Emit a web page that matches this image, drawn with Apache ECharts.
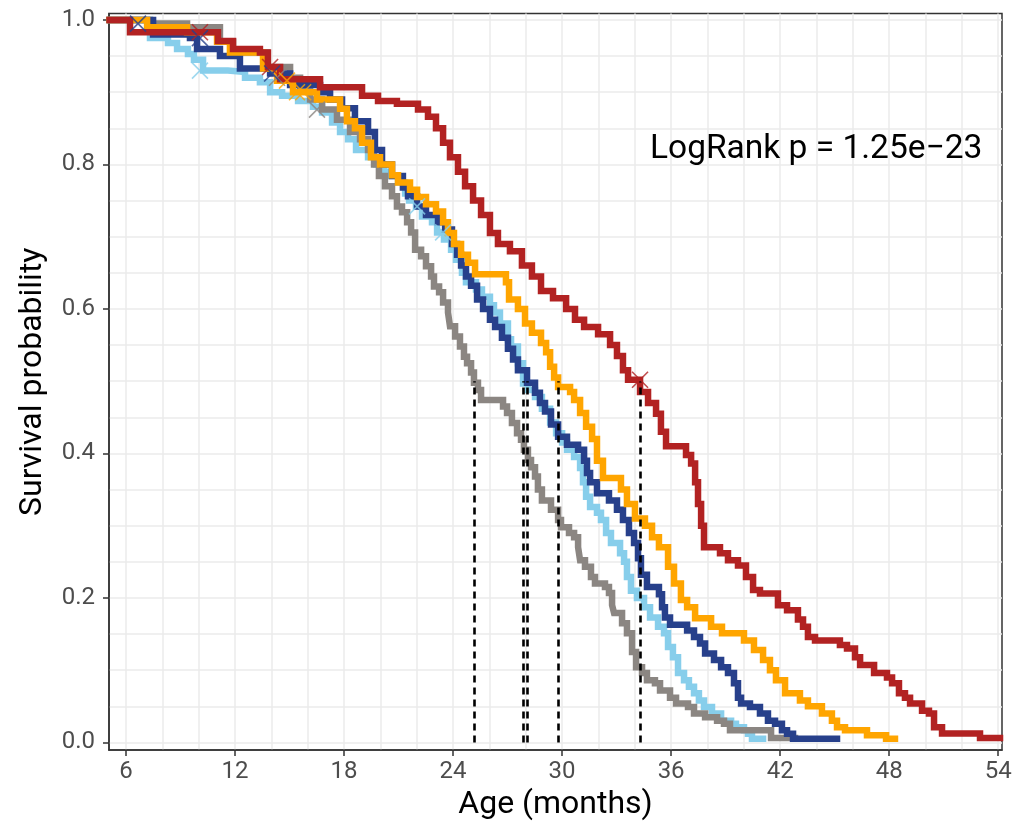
<!DOCTYPE html>
<html>
<head>
<meta charset="utf-8">
<script src="https://cdn.jsdelivr.net/npm/echarts@6/dist/echarts.min.js"></script>
<style>
  html, body { margin: 0; padding: 0; background: #fff; }
  #chart { width: 1024px; height: 828px; }
</style>
</head>
<body>
<div id="chart"></div>
<script>
// ---- Axis ticks / gridlines ----
const xTickValues = [6, 12, 18, 24, 30, 36, 42, 48, 54];
const xGridValues = [6, 8, 10, 12, 14, 16, 18, 20, 22, 24, 26, 28, 30, 32, 34, 36, 38, 40, 42, 44, 46, 48, 50, 52, 54];
const yTickValues = [0, 0.2, 0.4, 0.6, 0.8, 1.0];
const yGridValues = [0, 0.05, 0.1, 0.15, 0.2, 0.25, 0.3, 0.35, 0.4, 0.45, 0.5, 0.55, 0.6, 0.65, 0.7, 0.75, 0.8, 0.85, 0.9, 0.95, 1.0];

// ---- Kaplan-Meier curves (time in months, survival probability) ----
const lightblueTime = [5.1, 7.32, 8.31, 8.81, 9.41, 9.74, 10.24, 11.61, 12.55, 13.37, 13.93, 14.59, 15.47, 16.29, 16.79, 17.34, 17.78, 18.22, 18.66, 19.32, 19.76, 20.20, 20.47, 20.97, 21.36, 21.58, 21.96, 22.29, 22.84, 23.12, 23.50, 23.89, 24.16, 24.49, 24.71, 25.26, 25.59, 26.03, 26.25, 26.58, 27.02, 27.19, 27.57, 27.85, 28.12, 28.51, 28.89, 29.34, 29.67, 30.00, 30.27, 30.66, 30.99, 31.15, 31.32, 31.54, 31.92, 32.14, 32.42, 32.69, 33.19, 33.41, 33.57, 33.79, 34.12, 34.51, 34.84, 35.28, 35.61, 35.83, 36.10, 36.38, 36.71, 36.98, 37.26, 37.53, 37.81, 38.25, 38.75, 39.30, 39.57, 40.01, 40.23, 40.45, 41.06];
const lightblueSurv = [1.0, 0.975, 0.968, 0.96, 0.953, 0.945, 0.93, 0.928, 0.92, 0.914, 0.9, 0.895, 0.888, 0.88, 0.872, 0.858, 0.845, 0.835, 0.82, 0.81, 0.8, 0.79, 0.784, 0.775, 0.76, 0.75, 0.742, 0.728, 0.72, 0.706, 0.696, 0.682, 0.668, 0.65, 0.637, 0.627, 0.617, 0.605, 0.595, 0.58, 0.558, 0.548, 0.525, 0.497, 0.488, 0.478, 0.462, 0.443, 0.428, 0.415, 0.405, 0.395, 0.38, 0.36, 0.34, 0.326, 0.318, 0.308, 0.29, 0.276, 0.262, 0.25, 0.229, 0.21, 0.2, 0.187, 0.173, 0.16, 0.151, 0.132, 0.118, 0.096, 0.086, 0.077, 0.068, 0.058, 0.049, 0.04, 0.03, 0.026, 0.021, 0.017, 0.012, 0.005, 0.005];

const greyTime = [5.1, 7.32, 9.36, 11.17, 11.89, 13.76, 15.03, 15.58, 16.13, 16.79, 17.61, 18.33, 18.88, 19.32, 19.65, 19.92, 20.25, 20.64, 20.91, 21.19, 21.47, 21.69, 21.91, 22.24, 22.51, 22.79, 22.95, 23.23, 23.45, 23.72, 23.83, 24.11, 24.38, 24.60, 24.77, 24.99, 25.15, 25.37, 25.54, 26.75, 26.97, 27.24, 27.52, 27.74, 27.90, 28.12, 28.29, 28.51, 28.67, 28.89, 29.39, 29.78, 29.94, 30.38, 30.66, 30.88, 30.99, 31.26, 31.59, 31.81, 32.36, 32.58, 32.75, 32.86, 33.30, 33.57, 33.85, 34.07, 34.40, 34.67, 35.11, 35.39, 35.94, 36.27, 36.93, 37.26, 37.87, 38.53, 38.91, 39.24, 41.50, 42.82];
const greySurv = [1.0, 0.995, 0.99, 0.97, 0.955, 0.935, 0.92, 0.905, 0.89, 0.876, 0.862, 0.845, 0.835, 0.82, 0.8, 0.784, 0.77, 0.756, 0.742, 0.734, 0.72, 0.706, 0.682, 0.673, 0.659, 0.645, 0.631, 0.623, 0.609, 0.595, 0.576, 0.562, 0.548, 0.534, 0.525, 0.512, 0.498, 0.488, 0.474, 0.465, 0.456, 0.442, 0.428, 0.419, 0.405, 0.391, 0.381, 0.368, 0.35, 0.335, 0.322, 0.308, 0.298, 0.29, 0.284, 0.27, 0.252, 0.243, 0.229, 0.22, 0.215, 0.207, 0.19, 0.179, 0.165, 0.151, 0.125, 0.104, 0.096, 0.086, 0.082, 0.072, 0.062, 0.054, 0.049, 0.04, 0.035, 0.03, 0.026, 0.017, 0.006, 0.006];

const navyTime = [5.1, 7.49, 9.52, 9.91, 11.17, 12.27, 13.93, 15.03, 16.68, 17.23, 17.89, 18.60, 19.32, 19.70, 20.09, 20.64, 21.24, 21.52, 22.02, 22.51, 23.17, 23.56, 23.94, 24.22, 24.44, 24.71, 24.99, 25.32, 25.65, 26.03, 26.31, 26.69, 27.02, 27.30, 27.57, 28.07, 28.51, 28.78, 29.06, 29.39, 29.78, 30.27, 30.88, 31.21, 31.37, 31.54, 31.92, 32.58, 33.02, 33.35, 33.68, 33.96, 34.18, 34.34, 34.67, 35.33, 35.50, 35.66, 35.94, 36.88, 37.26, 37.59, 37.87, 38.36, 38.75, 39.13, 39.46, 39.68, 39.85, 40.34, 40.89, 41.33, 41.72, 42.10, 42.38, 42.71, 45.13];
const navySurv = [1.0, 0.98, 0.975, 0.96, 0.95, 0.933, 0.926, 0.91, 0.9, 0.89, 0.878, 0.86, 0.845, 0.82, 0.8, 0.784, 0.768, 0.756, 0.742, 0.73, 0.72, 0.71, 0.69, 0.675, 0.66, 0.645, 0.632, 0.613, 0.6, 0.585, 0.575, 0.56, 0.545, 0.53, 0.515, 0.498, 0.484, 0.47, 0.458, 0.44, 0.423, 0.412, 0.405, 0.39, 0.373, 0.36, 0.345, 0.335, 0.322, 0.308, 0.29, 0.276, 0.255, 0.232, 0.215, 0.205, 0.187, 0.173, 0.163, 0.155, 0.146, 0.137, 0.123, 0.114, 0.104, 0.096, 0.082, 0.062, 0.054, 0.049, 0.04, 0.03, 0.026, 0.017, 0.012, 0.005, 0.005];

const orangeTime = [5.1, 7.16, 9.36, 11.01, 11.72, 13.54, 14.31, 15.19, 16.51, 17.78, 18.16, 18.60, 18.99, 19.48, 19.98, 20.64, 20.97, 21.63, 22.02, 22.51, 23.06, 23.45, 23.72, 24.05, 24.44, 24.82, 25.21, 26.91, 27.08, 27.57, 27.96, 28.34, 28.84, 29.12, 29.34, 29.56, 29.78, 30.44, 30.66, 30.99, 31.32, 31.65, 31.92, 32.25, 33.24, 33.57, 34.01, 34.56, 34.95, 35.33, 35.83, 36.16, 36.54, 36.88, 37.32, 38.20, 38.80, 40.01, 40.56, 41.06, 41.44, 41.77, 42.27, 43.09, 43.53, 44.30, 44.85, 45.13, 45.57, 46.78, 47.83, 48.32];
const orangeSurv = [1.0, 0.99, 0.983, 0.97, 0.955, 0.933, 0.916, 0.9, 0.89, 0.877, 0.86, 0.85, 0.83, 0.81, 0.8, 0.785, 0.775, 0.765, 0.755, 0.745, 0.735, 0.72, 0.705, 0.69, 0.675, 0.664, 0.648, 0.637, 0.613, 0.6, 0.58, 0.567, 0.553, 0.54, 0.52, 0.505, 0.492, 0.485, 0.474, 0.456, 0.437, 0.42, 0.39, 0.366, 0.35, 0.33, 0.31, 0.3, 0.284, 0.27, 0.243, 0.22, 0.197, 0.187, 0.172, 0.16, 0.151, 0.141, 0.128, 0.114, 0.1, 0.086, 0.068, 0.058, 0.05, 0.04, 0.03, 0.021, 0.017, 0.01, 0.005, 0.005];

const redTime = [5.1, 6.22, 11.06, 11.89, 13.37, 13.81, 14.48, 16.68, 18.99, 19.87, 20.91, 22.07, 22.62, 23.06, 23.45, 23.83, 24.27, 24.66, 25.10, 25.54, 26.03, 26.47, 27.13, 27.79, 28.34, 28.84, 29.50, 30.22, 30.71, 31.21, 31.98, 32.64, 33.02, 33.35, 33.63, 34.29, 34.73, 35.17, 35.44, 35.72, 36.82, 37.10, 37.32, 37.48, 37.65, 37.81, 38.69, 39.13, 39.68, 40.12, 40.51, 40.89, 41.88, 42.38, 42.98, 43.26, 43.53, 43.92, 45.29, 45.68, 46.12, 46.40, 47.17, 47.88, 48.16, 48.54, 48.87, 49.15, 49.81, 50.19, 50.47, 50.91, 53.00, 54.10];
const redSurv = [1.0, 0.983, 0.971, 0.96, 0.955, 0.935, 0.918, 0.907, 0.895, 0.888, 0.884, 0.876, 0.866, 0.85, 0.83, 0.81, 0.79, 0.77, 0.75, 0.73, 0.705, 0.69, 0.68, 0.66, 0.645, 0.625, 0.615, 0.6, 0.585, 0.575, 0.565, 0.55, 0.535, 0.515, 0.502, 0.485, 0.47, 0.455, 0.43, 0.41, 0.398, 0.386, 0.36, 0.33, 0.3, 0.27, 0.262, 0.252, 0.245, 0.229, 0.211, 0.206, 0.19, 0.183, 0.17, 0.16, 0.146, 0.141, 0.135, 0.13, 0.118, 0.107, 0.096, 0.09, 0.082, 0.068, 0.062, 0.054, 0.044, 0.04, 0.021, 0.0125, 0.006, 0.006];

// ---- Censor marks ----
const navyCensorTime = [6.66, 10.07, 14.04];
const navyCensorSurv = [0.995, 0.975, 0.926];
const redCensorTime = [10.07, 13.93, 34.29];
const redCensorSurv = [0.983, 0.935, 0.502];
const lightblueCensorTime = [10.07, 22.02, 23.45];
const lightblueCensorSurv = [0.93, 0.742, 0.706];
const greyCensorTime = [14.31, 16.51];
const greyCensorSurv = [0.92, 0.876];
const orangeCensorTime = [14.86, 15.41, 15.75];
const orangeCensorSurv = [0.916, 0.9, 0.9];

// ---- Median survival times ----
const medianTimes = [25.15, 27.85, 28.07, 29.78, 34.29];
const medianLevel = 0.5;

const annotationText = 'LogRank p = 1.25e\u221223';

const zip = (a, b) => a.map((v, i) => [v, b[i]]);

const groups = [
  { name: 'lightblue', color: '#87CEEB', t: lightblueTime, s: lightblueSurv, ct: lightblueCensorTime, cs: lightblueCensorSurv },
  { name: 'grey', color: '#8B8682', t: greyTime, s: greySurv, ct: greyCensorTime, cs: greyCensorSurv },
  { name: 'navy', color: '#27408B', t: navyTime, s: navySurv, ct: navyCensorTime, cs: navyCensorSurv },
  { name: 'orange', color: '#FFA500', t: orangeTime, s: orangeSurv, ct: orangeCensorTime, cs: orangeCensorSurv },
  { name: 'red', color: '#B22222', t: redTime, s: redSurv, ct: redCensorTime, cs: redCensorSurv }
];

const series = [];
groups.forEach((g, i) => {
  series.push({
    name: g.name, type: 'line', step: 'end', data: zip(g.t, g.s),
    showSymbol: false, symbol: 'none', z: 3 + i * 0.1,
    lineStyle: { color: g.color, width: 6.5, cap: 'square', join: 'miter' },
    silent: true
  });
});
groups.forEach((g) => {
  series.push({
    name: g.name + '_censor', type: 'scatter', data: zip(g.ct, g.cs),
    symbol: 'path://M0,0L10,10M10,0L0,10', symbolSize: 16, z: 5,
    itemStyle: { color: 'rgba(0,0,0,0)', borderColor: g.color, borderWidth: 1.6 },
    silent: true
  });
});
series.push({
  name: 'medians', type: 'line', data: [], z: 6, silent: true,
  markLine: {
    silent: true, symbol: ['none', 'none'], animation: false,
    label: { show: false },
    lineStyle: { color: '#000', width: 2.6, type: [7, 5] },
    data: medianTimes.map(m => [{ coord: [m, 0] }, { coord: [m, medianLevel] }])
  }
});

const FONT = 'Roboto';
const xMin = 5.064, xMax = 54.21, yMin = -0.0105, yMax = 1.009;

const chart = echarts.init(document.getElementById('chart'), null, { renderer: 'canvas' });
chart.setOption({
  animation: false,
  backgroundColor: '#ffffff',
  grid: { left: 109, right: 22, top: 13.5, bottom: 78, show: true, borderColor: '#333333', borderWidth: 1.5, backgroundColor: 'transparent' },
  xAxis: [
    {
      type: 'value', min: xMin, max: xMax, position: 'bottom',
      name: 'Age (months)', nameLocation: 'middle', nameGap: 38,
      nameTextStyle: { fontFamily: FONT, fontSize: 32, color: '#000' },
      axisLine: { show: true, onZero: false, lineStyle: { color: '#333333', width: 1.5 } },
      axisTick: { show: true, length: 6, lineStyle: { color: '#333333', width: 1.5 }, customValues: xTickValues },
      axisLabel: { show: true, margin: 10, fontFamily: FONT, fontSize: 24, color: '#4D4D4D', customValues: xTickValues, formatter: v => String(Math.round(v)) },
      splitLine: { show: false }
    },
    {
      type: 'value', min: xMin, max: xMax, position: 'bottom',
      axisLine: { show: false }, axisLabel: { show: false },
      axisTick: { show: false, customValues: xGridValues },
      splitLine: { show: true, lineStyle: { color: '#EBEBEB', width: 1.5 } }
    }
  ],
  yAxis: [
    {
      type: 'value', min: yMin, max: yMax, position: 'left',
      name: 'Survival probability', nameLocation: 'middle', nameGap: 60, nameRotate: 90,
      nameTextStyle: { fontFamily: FONT, fontSize: 32, color: '#000' },
      axisLine: { show: true, onZero: false, lineStyle: { color: '#333333', width: 1.5 } },
      axisTick: { show: true, length: 6, lineStyle: { color: '#333333', width: 1.5 }, customValues: yTickValues },
      axisLabel: { show: true, margin: 14, fontFamily: FONT, fontSize: 24, color: '#4D4D4D', customValues: yTickValues, formatter: v => v.toFixed(1) },
      splitLine: { show: false }
    },
    {
      type: 'value', min: yMin, max: yMax, position: 'left',
      axisLine: { show: false }, axisLabel: { show: false },
      axisTick: { show: false, customValues: yGridValues },
      splitLine: { show: true, lineStyle: { color: '#EBEBEB', width: 1.5 } }
    }
  ],
  series: series,
  graphic: [
    { type: 'text', left: 650, top: 133, z: 10, style: { text: annotationText, fontFamily: FONT, fontSize: 33.5, fill: '#000' } }
  ]
});
</script>
</body>
</html>
